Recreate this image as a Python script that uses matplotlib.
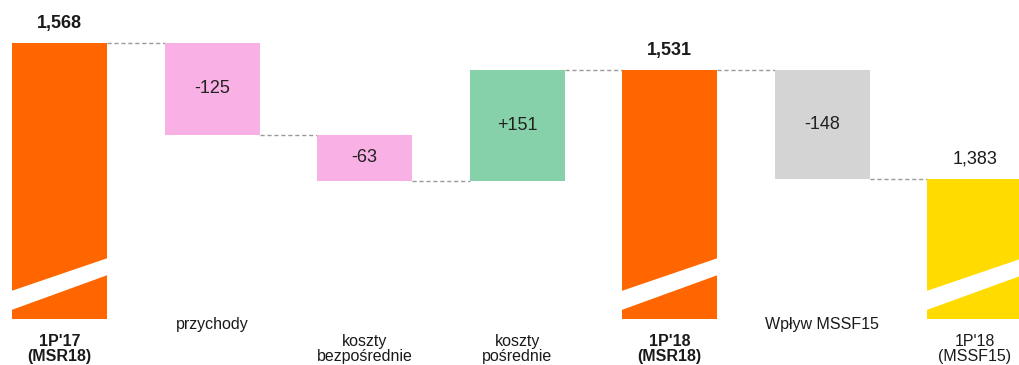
import matplotlib.pyplot as plt
from matplotlib.patches import Polygon

plt.rcParams['font.family'] = ['Liberation Sans', 'DejaVu Sans']

# waterfall: opening totals, changes, closing totals
categories = ["1P'17\n(MSR18)", "przychody", "koszty\nbezpośrednie", "koszty\npośrednie",
              "1P'18\n(MSR18)", "Wpływ MSSF15", "1P'18\n(MSSF15)"]
values = [1568, -125, -63, 151, 1531, -148, 1383]
kinds = ['total', 'delta', 'delta', 'delta', 'total', 'delta', 'total']
bold_cat = [True, False, False, False, True, False, False]

colors = {'total': '#FF6600', 'neg': '#F9B0E5', 'pos': '#86D1A9',
          'mssf': '#D4D4D4', 'final': '#FFDB00'}
bar_colors = [colors['total'], colors['neg'], colors['neg'], colors['pos'],
              colors['total'], colors['mssf'], colors['final']]

y_min, y_max = 1192, 1626
width = 0.623

fig = plt.figure(figsize=(10.19, 3.65), dpi=100)
ax = fig.add_axes([0, 46 / 365, 1, 319 / 365])
ax.set_xlim(-0.39, 6.29)
ax.set_ylim(y_min, y_max)
ax.axis('off')

level = 0
ends = []
for i, (v, k, c) in enumerate(zip(values, kinds, bar_colors)):
    if k == 'total':
        bottom, top = y_min, v
        level = v
    else:
        start = level
        level = level + v
        bottom, top = min(start, level), max(start, level)
    ends.append(level)
    ax.bar(i, top - bottom, bottom=bottom, width=width, color=c, linewidth=0, zorder=2)

    if k == 'total':
        # white slanted band marking the cut value axis
        x0, x1 = i - width / 2 - 0.02, i + width / 2 + 0.02
        band = Polygon([(x0, y_min + 11), (x1, y_min + 61), (x1, y_min + 84), (x0, y_min + 37)],
                       closed=True, facecolor='white', edgecolor='none', zorder=3)
        ax.add_patch(band)
        fw = 'bold' if bold_cat[i] else 'normal'
        ax.text(i, v + 26, f"{v:,}", ha='center', va='center', fontsize=13,
                fontweight=fw, color='#1a1a1a')
    else:
        ax.text(i, (top + bottom) / 2, f"{v:+d}" if v > 0 else f"{v}", ha='center',
                va='center', fontsize=13, color='#222222')

# dashed connectors between neighbouring bars
for i in range(len(values) - 1):
    ax.plot([i + width / 2, i + 1 - width / 2], [ends[i], ends[i]], color='#9a9a9a',
            linewidth=1, linestyle=(0, (3, 2)), zorder=1)

# category labels under the bars
for i, cat in enumerate(categories):
    fw = 'bold' if bold_cat[i] else 'normal'
    x = fig.transFigure.inverted().transform(ax.transData.transform((i, y_min)))[0]
    if '\n' in cat:
        fig.text(x, 1 - 364 / 365, cat, ha='center', va='bottom', fontsize=11.5,
                 fontweight=fw, color='#1a1a1a', linespacing=1.0)
    else:
        fig.text(x, 1 - 325 / 365, cat, ha='center', va='center', fontsize=11.5,
                 fontweight=fw, color='#1a1a1a')

fig.savefig('out.png', dpi=100)
